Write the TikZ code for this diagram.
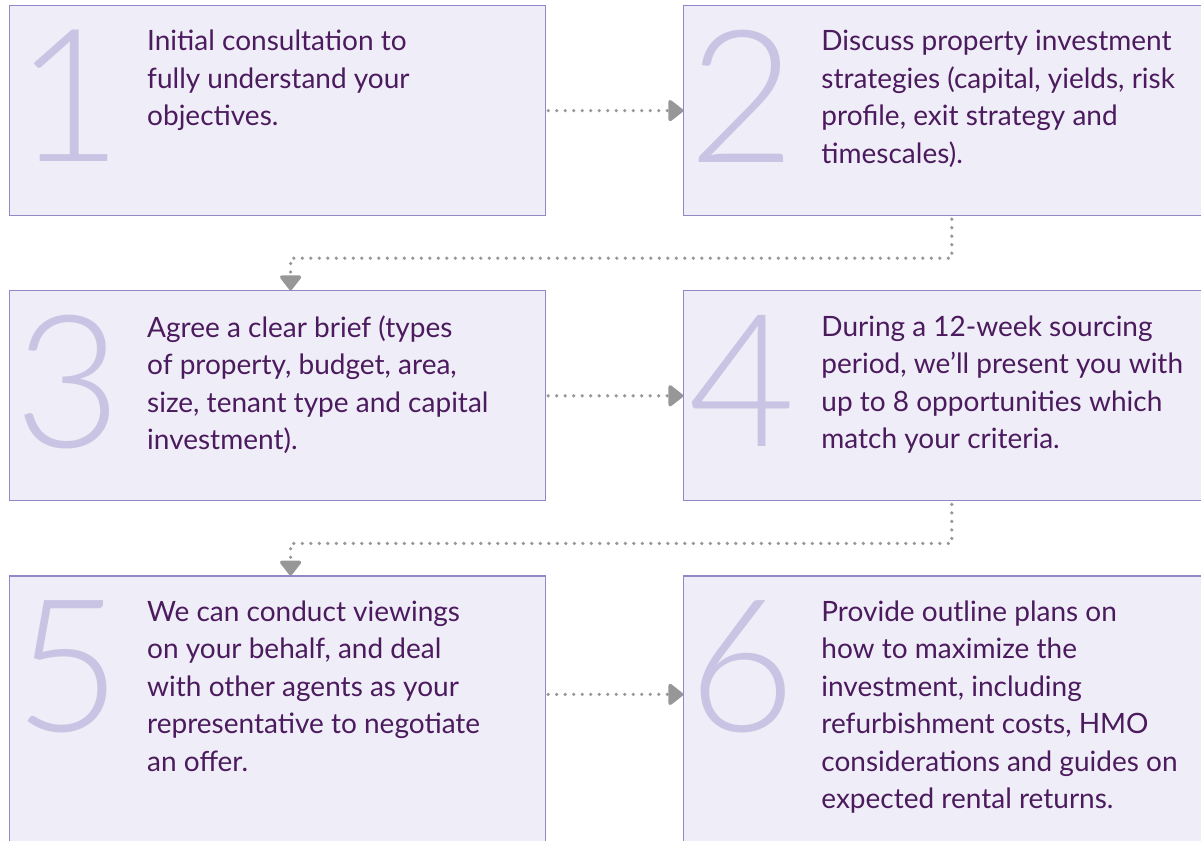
\documentclass[tikz,border=0pt]{standalone}
\usepackage{fontspec}
\setmainfont{Lato}
\newfontfamily\numfont{Lato Light}
\usetikzlibrary{positioning, calc, arrows.meta}
\definecolor{boxfill}{HTML}{EFEDF7}
\definecolor{boxline}{HTML}{9288C8}
\definecolor{numcol}{HTML}{C9C4E3}
\definecolor{txtcol}{HTML}{4B1B5E}
\definecolor{dotcol}{HTML}{979797}
\begin{document}
\begin{tikzpicture}[x=1pt, y=-1pt,
    stepbox/.style={draw=boxline, fill=boxfill, line width=1.2pt, minimum width=536pt, minimum height=210pt, inner sep=0pt},
    bignum/.style={font=\numfont\fontsize{185}{185}\selectfont, text=numcol, inner sep=0pt, anchor=north west},
    steptext/.style={font=\fontsize{28}{37.5}\selectfont, text=txtcol, align=left, inner sep=0pt, anchor=north west},
    flow/.style={dotcol, line width=3.6pt, line cap=round, dash pattern=on 0pt off 8.5pt, -{Triangle[length=16pt, width=24pt, round=false]}}]
    \useasboundingbox[fill=white] (0,0) rectangle (1201,840);
    \node[stepbox, anchor=north west] (s1) at (9,5) {};
    \node[stepbox, right=137pt of s1] (s2) {};
    \node[stepbox, below=74pt of s1] (s3) {};
    \node[stepbox, below=74pt of s2] (s4) {};
    \node[stepbox, below=74pt of s3, minimum height=300pt] (s5) {};
    \node[stepbox, below=74pt of s4, minimum height=300pt] (s6) {};
    \node[bignum] (n1) at ($(s1.north west)+(6,25)$) {1};
    \node[bignum] (n2) at ($(s2.north west)+(5,25)$) {2};
    \node[bignum] (n3) at ($(s3.north west)+(5,25)$) {3};
    \node[bignum] (n4) at ($(s4.north west)+(5,25)$) {4};
    \node[bignum] (n5) at ($(s5.north west)+(5,25)$) {5};
    \node[bignum] (n6) at ($(s6.north west)+(5,25)$) {6};
    \node[steptext] (t1) at ($(s1.north west)+(138,25)$) {Initial consultation to\\fully understand your\\objectives.};
    \node[steptext] (t2) at ($(s2.north west)+(138,25)$) {Discuss property investment\\strategies (capital, yields, risk\\profile, exit strategy and\\timescales).};
    \node[steptext] (t3) at ($(s3.north west)+(138,25)$) {Agree a clear brief (types\\of property, budget, area,\\size, tenant type and capital\\investment).};
    \node[steptext] (t4) at ($(s4.north west)+(138,25)$) {During a 12-week sourcing\\period, we’ll present you with\\up to 8 opportunities which\\match your criteria.};
    \node[steptext] (t5) at ($(s5.north west)+(138,25)$) {We can conduct viewings\\on your behalf, and deal\\with other agents as your\\representative to negotiate\\an offer.};
    \node[steptext] (t6) at ($(s6.north west)+(138,25)$) {Provide outline plans on\\how to maximize the\\investment, including\\refurbishment costs, HMO\\considerations and guides on\\expected rental returns.};
    \coordinate (d3) at ($(s3.north)+(13,0)$);
    \coordinate (d5) at ($(s5.north)+(13,0)$);
    \coordinate (a5) at ($(s5.north east)+(2,119)$);
    \coordinate (a6) at ($(s6.north west)+(0,119)$);
    \draw[flow] ([xshift=2pt]s1.east) -- (s2.west);
    \draw[flow] ([xshift=2pt]s3.east) -- (s4.west);
    \draw[flow] (a5) -- (a6);
    \draw[flow] ([yshift=-3pt]s2.south) -- ++(0,39) -| (d3);
    \draw[flow] ([yshift=-3pt]s4.south) -- ++(0,39) -| (d5);
\end{tikzpicture}
\end{document}
